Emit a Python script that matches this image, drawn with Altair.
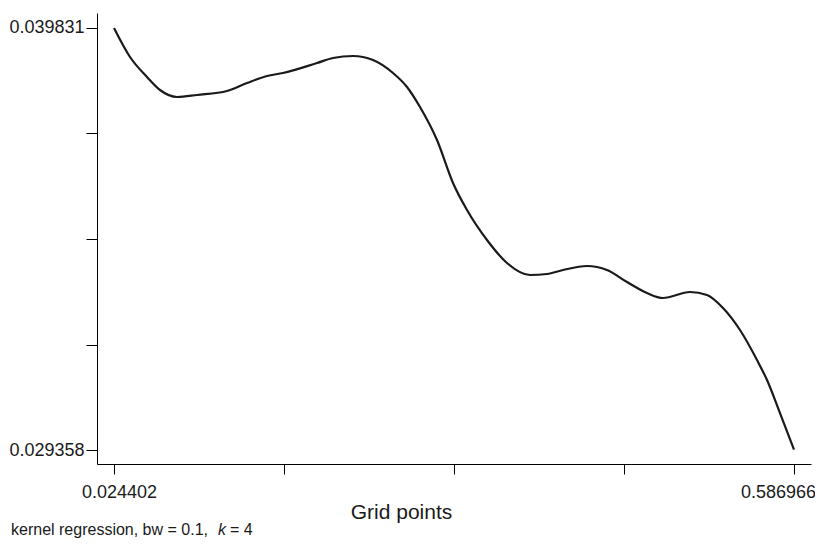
import altair as alt
import pandas as pd

# Grid points (x) and kernel regression estimate (y)
grid = [0.024402, 0.037639, 0.051703, 0.062458, 0.076522, 0.093068, 0.117887,
        0.134433, 0.150979, 0.164216, 0.192344, 0.205581, 0.222127, 0.238673,
        0.255219, 0.266801, 0.277556, 0.291620, 0.304857, 0.316439, 0.332985,
        0.349531, 0.368559, 0.382623, 0.395860, 0.415715, 0.432261, 0.448807,
        0.465353, 0.478590, 0.500927, 0.514991, 0.528228, 0.542292, 0.556356,
        0.564629, 0.575384, 0.586966]
estimate = [0.039831, 0.039111, 0.038615, 0.038292, 0.038119, 0.038168, 0.038267,
            0.038466, 0.038640, 0.038714, 0.038962, 0.039086, 0.039136, 0.039037,
            0.038714, 0.038367, 0.037870, 0.037051, 0.035984, 0.035314, 0.034570,
            0.033999, 0.033701, 0.033726, 0.033825, 0.033924, 0.033825, 0.033527,
            0.033254, 0.033130, 0.033279, 0.033205, 0.032882, 0.032336, 0.031591,
            0.031095, 0.030276, 0.029370]

x_ticks = [0.024402, 0.165043, 0.305684, 0.446325, 0.586966]
y_ticks = [0.029358, 0.031976, 0.034595, 0.037213, 0.039831]

caption_main = "kernel regression, bw = 0.1, "
caption_k = "k"
caption_end = "= 4"

df = pd.DataFrame({"x": grid, "y": estimate})
one = pd.DataFrame({"t": [0]})

FONT = "Liberation Sans"
INK = "#1a1a1a"

x_axis = alt.Axis(
    values=x_ticks, format=".6f",
    labelExpr="(datum.value < 0.03 || datum.value > 0.58) ? datum.label : ''",
    labelOffset={"condition": {"test": "datum.value > 0.5", "value": -16}, "value": 5},
    grid=False, tickSize=10, tickColor="black", tickWidth=1,
    domainColor="black", domainWidth=1,
    labelFont=FONT, labelFontSize=18, labelColor=INK, labelPadding=9,
    labelOverlap=False, labelBound=False, labelFlush=False,
    title="Grid points", titleFont=FONT, titleFontSize=21, titleFontWeight="normal",
    titleColor=INK, titleX=304, titleY=54, titleBaseline="alphabetic", titleAlign="center",
)
y_axis = alt.Axis(
    values=y_ticks, format=".6f",
    labelExpr="(datum.value < 0.0294 || datum.value > 0.0398) ? datum.label : ''",
    grid=False, tickSize=11, tickColor="black", tickWidth=1,
    domainColor="black", domainWidth=1,
    labelFont=FONT, labelFontSize=18, labelColor=INK, labelPadding=2,
    labelOverlap=False, labelBound=False, labelFlush=False, title=None,
)

line = alt.Chart(df).mark_line(color=INK, strokeWidth=2.2, interpolate="monotone").encode(
    x=alt.X("x:Q", scale=alt.Scale(domain=[0.010338, 0.601030], nice=False, zero=False), axis=x_axis),
    y=alt.Y("y:Q", scale=alt.Scale(domain=[0.029011, 0.040203], nice=False, zero=False), axis=y_axis),
)

CAP_Y = 522
cap1 = alt.Chart(one).mark_text(font=FONT, fontSize=16, color=INK, align="left", baseline="alphabetic").encode(
    x=alt.value(-86), y=alt.value(CAP_Y), text=alt.value(caption_main))
cap2 = alt.Chart(one).mark_text(font=FONT, fontSize=16, fontStyle="italic", color=INK, align="left", baseline="alphabetic").encode(
    x=alt.value(121), y=alt.value(CAP_Y), text=alt.value(caption_k))
cap3 = alt.Chart(one).mark_text(font=FONT, fontSize=16, color=INK, align="left", baseline="alphabetic").encode(
    x=alt.value(133), y=alt.value(CAP_Y), text=alt.value(caption_end))

chart = alt.layer(line, cap1, cap2, cap3).properties(
    width=714, height=451,
    autosize=alt.AutoSizeParams(type="none"),
    padding={"left": 89, "top": 5, "right": 4, "bottom": 74},
    background="white",
).configure_view(strokeWidth=0)

chart.save("out.html", embed_options={"renderer": "svg", "actions": False})
